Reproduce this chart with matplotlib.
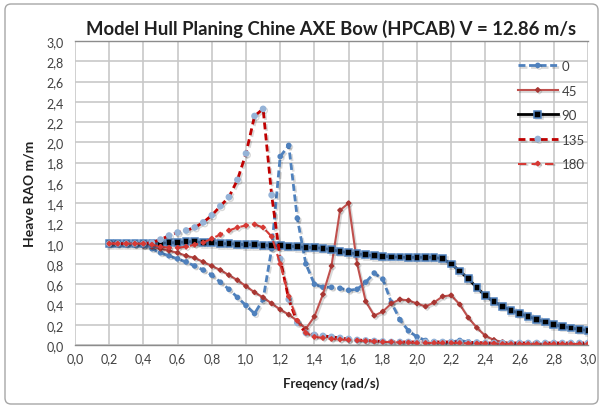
import matplotlib
matplotlib.use("Agg")
import matplotlib.pyplot as plt
import matplotlib.patheffects as pe
from matplotlib.patches import FancyBboxPatch
from matplotlib.ticker import FuncFormatter, MultipleLocator

plt.rcParams['font.family'] = ['Lato', 'DejaVu Sans']

# frequency (rad/s)
freq = [0.20, 0.25, 0.30, 0.35, 0.40, 0.45, 0.50, 0.55, 0.60, 0.65,
        0.70, 0.75, 0.80, 0.85, 0.90, 0.95, 1.00, 1.05, 1.10, 1.15,
        1.20, 1.25, 1.30, 1.35, 1.40, 1.45, 1.50, 1.55, 1.60, 1.65,
        1.70, 1.75, 1.80, 1.85, 1.90, 1.95, 2.00, 2.05, 2.10, 2.15,
        2.20, 2.25, 2.30, 2.35, 2.40, 2.45, 2.50, 2.55, 2.60, 2.65,
        2.70, 2.75, 2.80, 2.85, 2.90, 2.95, 3.00]

# heave RAO per heading (deg)
rao_0 = [1.00, 1.00, 1.00, 0.99, 0.98, 0.95, 0.91, 0.88, 0.85, 0.82,
         0.78, 0.74, 0.69, 0.62, 0.55, 0.47, 0.39, 0.31, 0.45, 0.95,
         1.86, 1.97, 1.25, 0.80, 0.60, 0.57, 0.57, 0.56, 0.54, 0.55,
         0.62, 0.71, 0.65, 0.42, 0.25, 0.14, 0.08, 0.045, 0.03, 0.02,
         0.03, 0.045, 0.03, 0.02, 0.015, 0.01, 0.01, 0.01, 0.01, 0.01,
         0.01, 0.01, 0.01, 0.01, 0.01, 0.01, 0.01]
rao_45 = [1.00, 1.00, 1.00, 0.99, 0.98, 0.97, 0.95, 0.93, 0.91, 0.88,
          0.86, 0.82, 0.78, 0.74, 0.69, 0.64, 0.58, 0.52, 0.47, 0.41,
          0.35, 0.30, 0.24, 0.16, 0.28, 0.50, 0.78, 1.33, 1.40, 0.80,
          0.43, 0.29, 0.33, 0.41, 0.45, 0.44, 0.41, 0.38, 0.42, 0.48,
          0.49, 0.40, 0.27, 0.17, 0.09, 0.05, 0.03, 0.02, 0.015, 0.01,
          0.01, 0.01, 0.01, 0.01, 0.01, 0.01, 0.01]
rao_90 = [1.00, 1.00, 1.00, 1.00, 1.00, 1.00, 1.00, 1.01, 1.01, 1.02,
          1.02, 1.01, 1.01, 1.00, 1.00, 0.995, 0.99, 0.99, 0.985, 0.98,
          0.98, 0.975, 0.97, 0.965, 0.96, 0.955, 0.94, 0.925, 0.91, 0.90,
          0.89, 0.88, 0.875, 0.87, 0.867, 0.865, 0.865, 0.865, 0.865, 0.851,
          0.80, 0.73, 0.653, 0.566, 0.486, 0.427, 0.382, 0.34, 0.312, 0.281,
          0.253, 0.226, 0.201, 0.184, 0.167, 0.156, 0.142]
rao_135 = [1.00, 1.00, 1.00, 1.00, 1.00, 1.01, 1.04, 1.08, 1.11, 1.13,
           1.16, 1.21, 1.28, 1.37, 1.46, 1.63, 1.89, 2.26, 2.33, 1.48,
           0.85, 0.45, 0.22, 0.12, 0.10, 0.09, 0.08, 0.07, 0.06, 0.05,
           0.045, 0.04, 0.035, 0.03, 0.03, 0.03, 0.03, 0.03, 0.03, 0.03,
           0.03, 0.03, 0.025, 0.025, 0.02, 0.02, 0.02, 0.02, 0.02, 0.02,
           0.02, 0.02, 0.02, 0.02, 0.02, 0.02, 0.02]
rao_180 = [1.00, 1.00, 1.00, 1.00, 1.00, 0.99, 0.97, 0.96, 0.96, 0.97,
           0.99, 1.01, 1.05, 1.09, 1.13, 1.16, 1.18, 1.19, 1.16, 1.07,
           0.80, 0.48, 0.24, 0.12, 0.08, 0.07, 0.06, 0.055, 0.05, 0.045,
           0.04, 0.035, 0.03, 0.03, 0.025, 0.025, 0.02, 0.02, 0.02, 0.02,
           0.02, 0.02, 0.015, 0.015, 0.015, 0.015, 0.01, 0.01, 0.01, 0.01,
           0.01, 0.01, 0.01, 0.01, 0.01, 0.01, 0.01]

fig = plt.figure(figsize=(6.03, 4.10), dpi=100)
fig.patches.append(FancyBboxPatch((5, 5), 593, 400, boxstyle="round,pad=0,rounding_size=6",
                                  transform=None, facecolor='white', edgecolor='#A6A6A6',
                                  linewidth=1, zorder=-10))

ax = fig.add_axes([75/603, 64/410, 513/603, 304/410])
ax.set_facecolor('none')

shadow = [pe.SimpleLineShadow(offset=(1.2, -1.2), shadow_color='k', alpha=0.15), pe.Normal()]

ax.plot(freq, rao_0, color='#4F81BD', lw=2, dashes=(2.5, 1.3), marker='o', ms=3,
        mfc='#4F81BD', mec='#4F81BD', label='0', path_effects=shadow)
ax.plot(freq, rao_45, color='#C0504D', lw=1.5, marker='D', ms=2.3,
        mfc='#A83632', mec='#A83632', label='45', path_effects=shadow)
ax.plot(freq, rao_90, color='black', lw=2, marker='s', ms=4.8,
        mfc='black', mec='#4F81BD', mew=1.1, label='90', path_effects=shadow)
ax.plot(freq, rao_135, color='#C00000', lw=2, dashes=(2.5, 1.5), marker='o', ms=3.8,
        mfc='#95B3D7', mec='#95B3D7', label='135', path_effects=shadow)
ax.plot(freq, rao_180, color='#D63A35', lw=1.5, dashes=(4, 2.5), marker='D', ms=2.3,
        mfc='#D63A35', mec='#D63A35', label='180', path_effects=shadow)

ax.set_xlim(0, 3.0)
ax.set_ylim(0, 3.0)
ax.xaxis.set_major_locator(MultipleLocator(0.2))
ax.yaxis.set_major_locator(MultipleLocator(0.2))
comma = FuncFormatter(lambda v, p: f"{v:.1f}".replace('.', ','))
ax.xaxis.set_major_formatter(comma)
ax.yaxis.set_major_formatter(comma)
ax.tick_params(length=0, labelsize=9, colors='#404040')
ax.tick_params(axis='x', pad=5)
ax.tick_params(axis='y', pad=8)
ax.grid(True, color='#C8C8C8', lw=1.2)
ax.set_axisbelow(True)
for side in ['left', 'right']:
    ax.spines[side].set_visible(False)
for side in ['top', 'bottom']:
    ax.spines[side].set_color('#8C8C8C')
    ax.spines[side].set_linewidth(1)

ax.set_title('Model Hull Planing Chine AXE Bow (HPCAB) V = 12.86 m/s',
             fontsize=13.3, fontweight='bold', color='#202020', pad=5)
ax.set_xlabel('Freqency (rad/s)', fontsize=9.5, fontweight='bold', color='#202020', labelpad=9)
ax.set_ylabel('Heave RAO m/m', fontsize=10, fontweight='bold', color='#202020', labelpad=8)

ax.legend(loc='upper left', bbox_to_anchor=(518/603, 1 - 61/410), bbox_transform=fig.transFigure,
          frameon=False, fontsize=9.5, numpoints=1, handlelength=3.0, handletextpad=0.3,
          labelspacing=0.95, borderpad=0, borderaxespad=0, labelcolor='#404040')

fig.savefig('out.png', dpi=100)
